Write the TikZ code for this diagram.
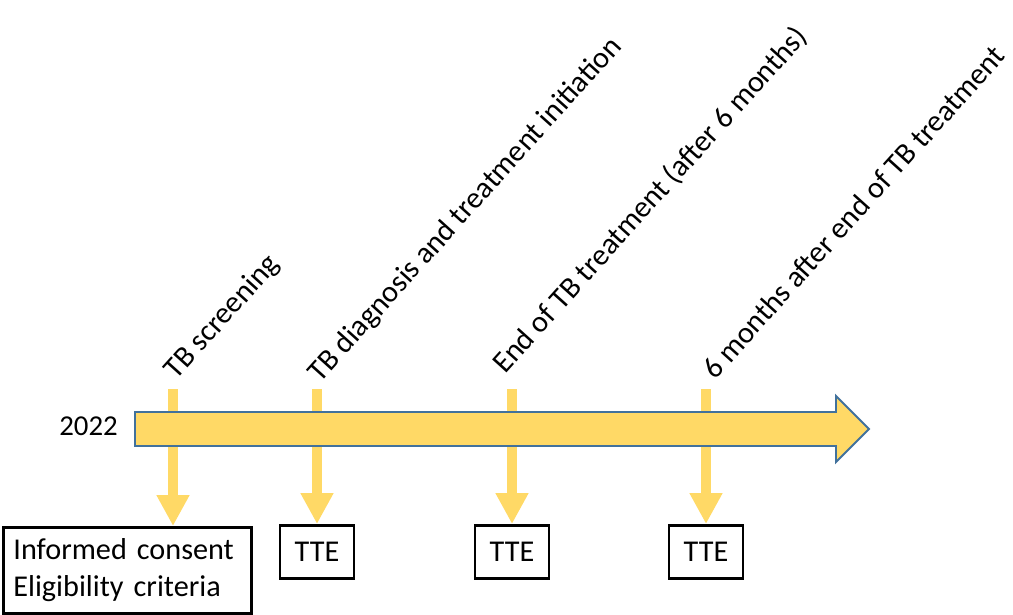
\documentclass[tikz,border=0pt]{standalone}
\usepackage{fontspec}
\setmainfont{Carlito}
\usetikzlibrary{arrows.meta,positioning}
\definecolor{tlyellow}{HTML}{FFD966}
\definecolor{tlblue}{HTML}{41719C}

\begin{document}
\begin{tikzpicture}[font=\fontsize{21.5}{26.5}\selectfont,
  bar/.style={draw=tlyellow,line width=2.5mm,-{Triangle[length=7.75mm,width=7.75mm]}},
  box/.style={draw=black,line width=2pt,inner sep=0pt},
  tte/.style={box,minimum width=1.85cm,minimum height=1.325cm,anchor=north},
  event/.style={rotate=48,anchor=base west,inner sep=0pt}]
% page: 1013 x 614 px at 40 px/cm
\useasboundingbox (0,0) rectangle (25.325,15.35);

% ---- the four time points -----------------------------------------------
\coordinate (s1) at (4.325,5.625);
\coordinate (s2) at (7.925,5.625);
\coordinate (s3) at (12.8,5.625);
\coordinate (s4) at (17.65,5.625);
\node[event] (lscreen) at (4.4,5.825)    {TB screening};
\node[event] (ldiag)   at (8.0,5.75)     {TB diagnosis and treatment initiation};
\node[event] (lend)    at (12.625,5.975) {End of TB treatment (after 6 months)};
\node[event] (lafter)  at (17.875,5.825) {6 months after end of TB treatment};

% ---- the boxes below ------------------------------------------------------
\node[box,anchor=north west,align=left,text width=5.7cm,inner xsep=0.25cm,
  minimum height=2.15cm] (consent) at (0.05,2.2)
  {Informed consent\\Eligibility criteria};
\node[tte] (tte1) at (7.925,2.25) {TTE};
\node[tte] (tte2) at (12.8,2.25)  {TTE};
\node[tte] (tte3) at (17.65,2.25) {TTE};

% bars run behind the time line
\draw[bar] (s1) -- (s1 |- consent.north);
\draw[bar] (s2) -- (tte1.north);
\draw[bar] (s3) -- (tte2.north);
\draw[bar] (s4) -- (tte3.north);

% ---- the time line --------------------------------------------------------
\coordinate (tstart) at (3.375,4.625);
\draw[fill=tlyellow,draw=tlblue,line width=1.4pt]
  (3.375,4.2) -- (20.9,4.2) -- (20.9,3.8) -- (21.725,4.625)
  -- (20.9,5.45) -- (20.9,5.05) -- (3.375,5.05) -- cycle;
\node[left=0.425cm of tstart,inner sep=0pt,yshift=0.06cm,
  font=\fontsize{20.5}{24}\selectfont] (year) {2022};
\end{tikzpicture}
\end{document}
